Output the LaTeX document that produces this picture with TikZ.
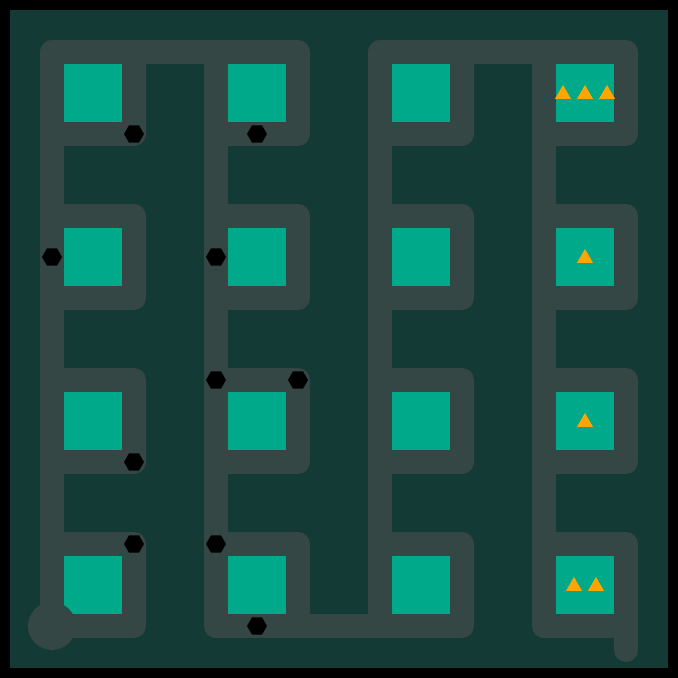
\documentclass[tikz,border=0pt]{standalone}
\usepackage{xcolor}
\usepackage{tikz}
\usetikzlibrary{shapes.geometric}
\definecolor{cFrame}{HTML}{000000}
\definecolor{cField}{HTML}{133A34}
\definecolor{cRoad}{HTML}{344745}
\definecolor{cLot}{HTML}{00A98A}
\definecolor{cMark}{HTML}{FFA500}
\tikzset{
  road/.style={draw=cRoad,line width=24pt,line cap=round,line join=round},
  lot/.style={fill=cLot,minimum size=58pt,inner sep=0pt,outer sep=0pt},
  hexa/.style={regular polygon,regular polygon sides=6,fill=cFrame,minimum size=20pt,inner sep=0pt},
  tri/.style={regular polygon,regular polygon sides=3,fill=cMark,minimum size=18.5pt,inner sep=0pt},
}

\begin{document}
\begin{tikzpicture}[x=1pt,y=-1pt]
    \fill[cFrame] (0,0) rectangle (678,678);
    \fill[cField] (10,10) rectangle (668,668);
    \foreach \x in {52,216,380,544}
      {\draw[road] (\x,52) -- (\x,626);
       \foreach \y in {93,257,421,585}
         \draw[road] (\x,\y-41) -- (\x+82,\y-41) -- (\x+82,\y+41) -- (\x,\y+41);}
    \draw[road] (134,52) -- (216,52);
    \draw[road] (462,52) -- (544,52);
    \draw[road] (298,626) -- (380,626);
    \draw[road] (626,626) -- (626,650);
    \foreach \x in {93,257,421,585}
      \foreach \y in {93,257,421,585}
        \node[lot] (lot-\x-\y) at (\x,\y) {};
    \fill[cRoad] (52,626) circle (24pt);
    \foreach \x/\y in {134/134,257/134,52/257,216/257,216/380,298/380,134/462,134/544,216/544,257/626}
      \node[hexa] (gate-\x-\y) at (\x,\y) {};
    \foreach \x/\y in {563/93,585/93,607/93,585/257,585/421,574/585,596/585}
      \node[tri] (flag-\x-\y) at (\x,\y+1.2) {};
  \end{tikzpicture}
\end{document}
